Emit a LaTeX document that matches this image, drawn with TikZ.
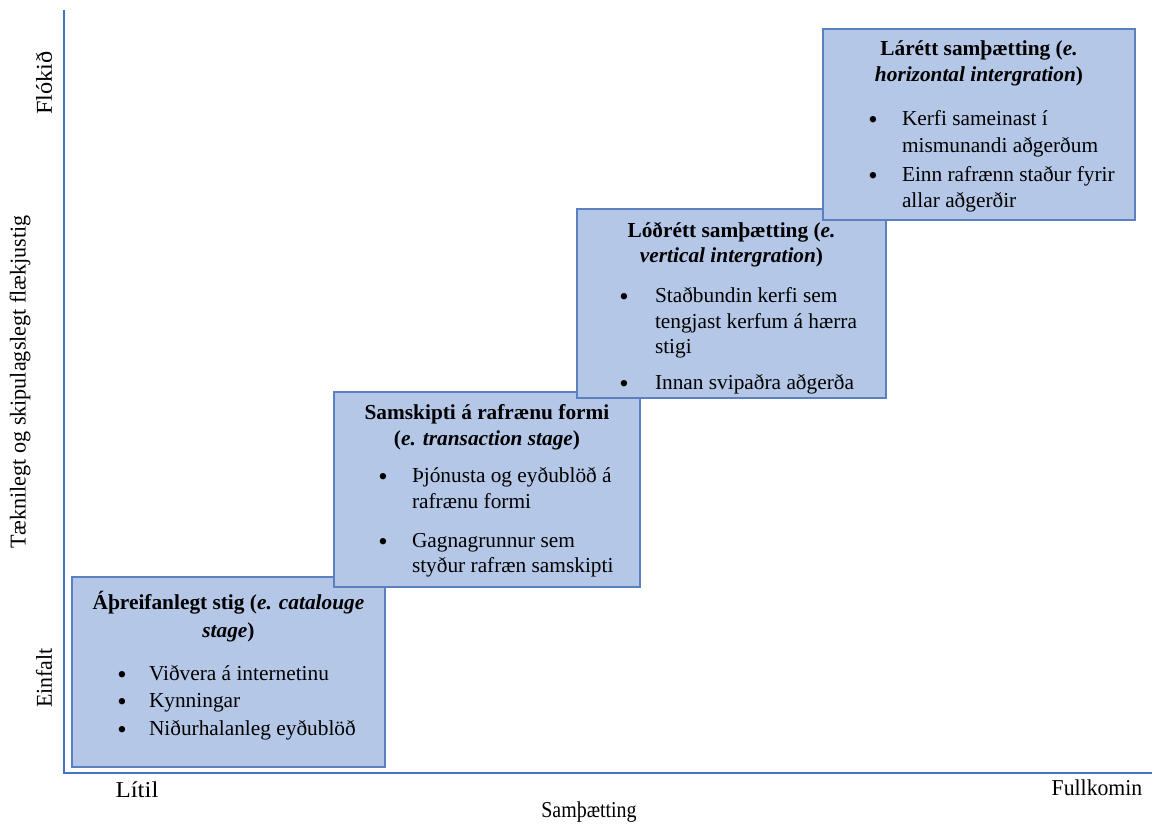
\documentclass[tikz,border=0pt]{standalone}
\usepackage{fontspec}
\setmainfont{Liberation Serif}
\newfontfamily\axisfont[FakeStretch=0.88]{Liberation Serif}
\definecolor{boxfill}{HTML}{B4C7E7}
\definecolor{boxline}{HTML}{5B7FC0}
\definecolor{axisblue}{HTML}{4472C4}
\begin{document}
\begin{tikzpicture}[x=0.75pt,y=-0.75pt,
  every node/.style={inner sep=0pt,outer sep=0pt,font=\fontsize{16}{19}\selectfont},
  stagebox/.style={draw=boxline,line width=1.1pt,fill=boxfill,rectangle,anchor=north west},
  headline/.style={anchor=base,font=\fontsize{16}{19}\selectfont\bfseries},
  itemline/.style={anchor=base west},
  dot/.style={anchor=center,yshift=1.8pt,font=\fontsize{20}{20}\selectfont},
  axislabel/.style={font=\fontsize{17}{20}\axisfont},
  axisline/.style={draw=axisblue,line width=2pt}]
\useasboundingbox (0,0) rectangle (1157,824);

% axes
\coordinate (origin) at (64,773);
\coordinate (ytop) at (64,10);
\coordinate (xend) at (1152,773);
\draw[axisline] (ytop) -- (origin) -- (xend);

% axis labels
\node[axislabel,rotate=90] (ymax) at (44,83) {\scalebox{1.22}[1]{Flókið}};
\node[axislabel,rotate=90] (ymin) at (44,678) {\scalebox{1.1}[1]{Einfalt}};
\node[axislabel,rotate=90] (ytitle) at (20,382) {\scalebox{1.11}[1]{Tæknilegt og skipulagslegt flækjustig}};
\node[axislabel,anchor=base] (xmin) at (137,797) {\scalebox{1.25}[1]{Lítil}};
\node[axislabel,anchor=base] (xmax) at (1097,795) {\scalebox{1.09}[1]{Fullkomin}};
\node[axislabel,anchor=base] (xtitle) at (589,817) {Samþætting};

% stage 1
\node[stagebox,minimum width=234.75pt,minimum height=142.5pt] (box1) at (72,577) {};
\node[headline] (h1a) at (228.5,609) {Áþreifanlegt stig (\textit{e. catalouge}};
\node[headline] (h1b) at (228.5,637) {\textit{stage})};
\node[dot] (d1a) at (122,680) {•};
\node[itemline] (i1a) at (149,680) {Viðvera á internetinu};
\node[dot] (d1b) at (122,707) {•};
\node[itemline] (i1b) at (149,707) {Kynningar};
\node[dot] (d1c) at (122,735) {•};
\node[itemline] (i1c) at (149,735) {Niðurhalanleg eyðublöð};

% stage 2
\node[stagebox,minimum width=229.5pt,minimum height=146.25pt] (box2) at (334,392) {};
\node[headline] (h2a) at (487,419) {Samskipti á rafrænu formi};
\node[headline] (h2b) at (487,445) {(\textit{e. transaction stage})};
\node[dot] (d2a) at (383,482) {•};
\node[itemline] (i2a) at (412,482) {Þjónusta og eyðublöð á};
\node[itemline] (i2b) at (412,508) {rafrænu formi};
\node[dot] (d2b) at (383,547) {•};
\node[itemline] (i2c) at (412,547) {Gagnagrunnur sem};
\node[itemline] (i2d) at (412,572) {styður rafræn samskipti};

% stage 3
\node[stagebox,minimum width=231.75pt,minimum height=141.75pt] (box3) at (577,209) {};
\node[headline] (h3a) at (731.5,237) {Lóðrétt samþætting (\textit{e.}};
\node[headline] (h3b) at (731.5,262) {\textit{vertical intergration})};
\node[dot] (d3a) at (624,302) {•};
\node[itemline] (i3a) at (655,302) {Staðbundin kerfi sem};
\node[itemline] (i3b) at (655,328) {tengjast kerfum á hærra};
\node[itemline] (i3c) at (655,353) {stigi};
\node[dot] (d3b) at (624,389) {•};
\node[itemline] (i3d) at (655,389) {Innan svipaðra aðgerða};

% stage 4
\node[stagebox,minimum width=234pt,minimum height=143.25pt] (box4) at (823,29) {};
\node[headline] (h4a) at (979,56) {Lárétt samþætting (\textit{e.}};
\node[headline] (h4b) at (979,82) {\textit{horizontal intergration})};
\node[dot] (d4a) at (873,125) {•};
\node[itemline] (i4a) at (902,125) {Kerfi sameinast í};
\node[itemline] (i4b) at (902,152) {mismunandi aðgerðum};
\node[dot] (d4b) at (873,181) {•};
\node[itemline] (i4c) at (902,181) {Einn rafrænn staður fyrir};
\node[itemline] (i4d) at (902,207) {allar aðgerðir};
\end{tikzpicture}
\end{document}
